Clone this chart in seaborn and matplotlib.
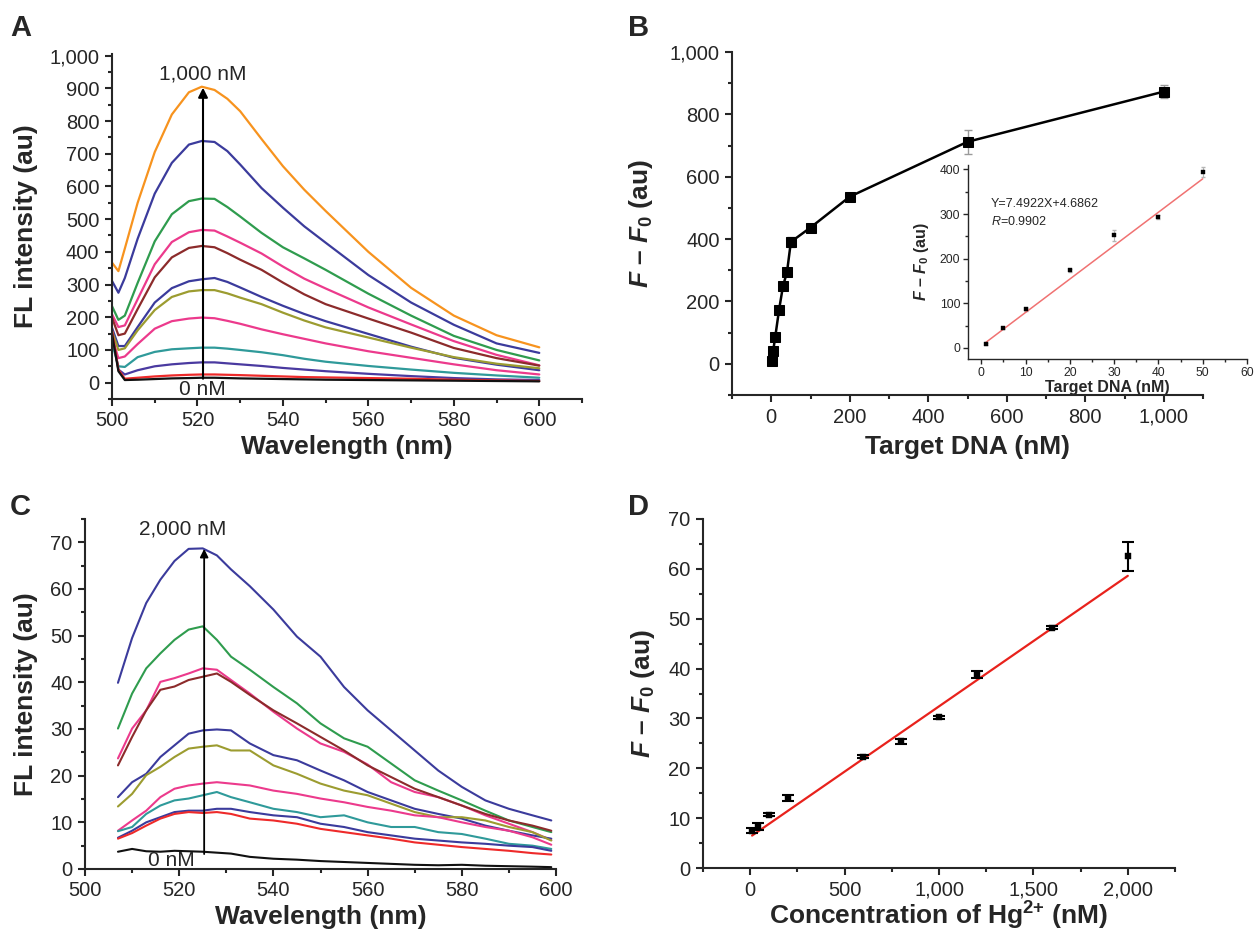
import matplotlib
matplotlib.use('Agg')
import matplotlib.pyplot as plt
import pandas as pd
import seaborn as sns
from matplotlib.ticker import MultipleLocator, FuncFormatter

# ---- panel A: FL spectra, target DNA 0..1000 nM ----
wl_a = [500, 501.5, 503, 506, 510, 514, 518, 521, 524, 527, 530, 535, 540, 545, 550, 560, 570, 580, 590, 600]
a_orange = [367, 341, 410, 550, 705, 820, 888, 905, 895, 868, 830, 745, 662, 590, 525, 400, 290, 205, 145, 108]
a_navy1 = [311, 275, 320, 440, 578, 672, 728, 739, 736, 708, 667, 595, 535, 478, 428, 329, 245, 177, 120, 91]
a_green = [234, 192, 205, 305, 432, 515, 555, 563, 562, 537, 508, 458, 414, 380, 345, 272, 205, 143, 100, 68]
a_pink1 = [209, 170, 175, 255, 362, 430, 460, 467, 465, 447, 428, 395, 355, 318, 288, 230, 178, 127, 85, 53]
a_brown = [199, 145, 150, 225, 322, 383, 412, 418, 414, 396, 376, 345, 306, 270, 240, 196, 153, 106, 75, 52]
a_navy2 = [168, 112, 112, 170, 245, 289, 310, 316, 320, 308, 291, 262, 235, 210, 188, 149, 110, 76, 55, 38]
a_olive = [158, 100, 105, 160, 222, 262, 279, 283, 283, 273, 260, 240, 214, 190, 169, 138, 107, 78, 58, 44]
a_pink2 = [138, 75, 80, 118, 165, 188, 196, 199, 197, 189, 180, 163, 148, 134, 120, 96, 76, 56, 38, 25]
a_teal = [122, 50, 48, 78, 94, 102, 105, 107, 107, 104, 100, 93, 84, 73, 64, 51, 40, 30, 22, 15]
a_navy3 = [150, 40, 25, 38, 50, 56, 60, 62, 62, 59, 56, 51, 45, 40, 35, 27, 20, 14, 10, 8]
a_red = [160, 40, 12, 15, 19, 22, 24, 25, 25, 24, 23, 21, 19, 17, 16, 14, 12, 9, 7, 5]
a_black = [150, 35, 8, 9, 11, 13, 14, 15, 15, 14, 13, 12, 11, 10, 9, 8, 7, 6, 5, 4]

# ---- panel B: F - F0 vs target DNA ----
b_x = [1, 5, 10, 20, 30, 40, 50, 100, 200, 500, 1000]
b_y = [8.5, 42.5, 85, 174, 250, 293, 391, 437, 536, 712, 873]
b_err = [3, 3, 5, 4, 8, 5, 15, 8, 6, 39, 20]

# inset (linear range)
in_x = [1, 5, 10, 20, 30, 40, 50]
in_y = [8, 44, 86, 174, 252, 294, 394]
in_err = [2, 2, 3, 3, 12, 4, 12]
in_fit_x = [1, 50]
in_fit_y = [12, 379]

# ---- panel C: FL spectra, Hg2+ 0..2000 nM ----
wl_c = [507, 510, 513, 516, 519, 522, 525, 528, 531, 535, 540, 545, 550, 555, 560, 565, 570, 575, 580, 585, 590, 595, 599]
c_navy1 = [39.9, 49.5, 57.0, 62.0, 66.0, 68.6, 68.7, 67.2, 64.2, 60.6, 55.6, 49.8, 45.5, 39.0, 34.0, 29.7, 25.4, 21.1, 17.6, 14.7, 12.9, 11.5, 10.4]
c_green = [30.1, 37.6, 43.0, 46.2, 49.1, 51.3, 52.0, 49.1, 45.5, 42.7, 39.0, 35.5, 31.2, 28.0, 26.2, 22.6, 19.0, 16.8, 14.7, 12.5, 10.4, 9.0, 7.9]
c_pink1 = [23.7, 30.1, 34.0, 40.1, 40.9, 41.9, 43.0, 42.7, 40.5, 37.6, 33.7, 30.1, 26.9, 25.1, 22.4, 18.6, 16.5, 15.4, 13.6, 11.5, 9.7, 7.9, 6.2]
c_brown = [22.2, 28.3, 34.0, 38.4, 39.1, 40.5, 41.2, 41.9, 40.1, 37.3, 34.0, 31.2, 28.3, 25.4, 22.2, 19.7, 17.2, 15.4, 13.6, 11.8, 10.4, 9.3, 8.2]
c_navy2 = [15.4, 18.6, 20.4, 24.0, 26.5, 29.0, 29.7, 29.9, 29.7, 26.9, 24.4, 23.3, 21.1, 19.0, 16.5, 14.7, 12.9, 11.8, 10.8, 9.3, 8.2, 7.2, 6.5]
c_olive = [13.4, 16.1, 20.1, 21.9, 24.0, 25.8, 26.2, 26.5, 25.4, 25.4, 22.2, 20.4, 18.3, 16.8, 15.8, 14.0, 12.2, 11.1, 11.1, 10.4, 9.0, 7.9, 6.1]
c_pink2 = [8.2, 10.4, 12.5, 15.4, 17.2, 17.9, 18.3, 18.6, 18.3, 17.9, 16.8, 16.1, 15.1, 14.3, 13.3, 12.5, 11.5, 11.1, 10.0, 9.0, 8.2, 6.8, 5.2]
c_teal = [8.1, 9.0, 11.8, 13.6, 14.7, 15.1, 15.8, 16.5, 15.4, 14.3, 12.9, 12.2, 11.1, 11.5, 10.0, 9.0, 9.0, 7.9, 7.5, 6.5, 5.4, 5.0, 4.3]
c_navy3 = [6.7, 8.2, 10.0, 11.1, 12.2, 12.5, 12.5, 12.9, 12.9, 12.2, 11.5, 11.1, 9.7, 9.0, 7.9, 7.2, 6.5, 6.1, 5.7, 5.4, 5.0, 4.7, 3.9]
c_red = [6.5, 7.7, 9.3, 10.8, 11.8, 12.2, 12.0, 12.2, 11.8, 10.8, 10.4, 9.7, 8.6, 7.9, 7.2, 6.5, 5.7, 5.2, 4.7, 4.3, 3.9, 3.4, 3.1]
c_black = [3.7, 4.3, 3.8, 3.7, 3.9, 3.8, 3.7, 3.5, 3.3, 2.6, 2.2, 2.0, 1.7, 1.5, 1.3, 1.1, 0.9, 0.8, 0.9, 0.7, 0.6, 0.5, 0.4]

# ---- panel D: F - F0 vs Hg2+ ----
d_x = [10, 40, 100, 200, 600, 800, 1000, 1200, 1600, 2000]
d_y = [7.5, 8.4, 10.7, 14.1, 22.3, 25.4, 30.2, 38.8, 48.2, 62.5]
d_err = [0.5, 0.7, 0.3, 0.6, 0.3, 0.55, 0.3, 0.65, 0.3, 2.9]
d_fit_x = [10, 2000]
d_fit_y = [6.5, 58.6]

NAVY, GREEN, PINK, BROWN = '#3b3b9c', '#2f9c4e', '#ec3a8c', '#8c2b2b'
OLIVE, TEAL, RED, ORANGE = '#9c9c30', '#2f9a9a', '#ee2a2a', '#f7931e'

sns.set_style('ticks')
plt.rcParams['font.family'] = ['Liberation Sans', 'DejaVu Sans']
plt.rcParams['mathtext.fontset'] = 'custom'
plt.rcParams['mathtext.rm'] = 'Liberation Sans:bold'
plt.rcParams['mathtext.bf'] = 'Liberation Sans:bold'
plt.rcParams['mathtext.it'] = 'Liberation Sans:italic:bold'
plt.rcParams['mathtext.sf'] = 'Liberation Sans:italic'

comma = FuncFormatter(lambda v, p: f'{int(round(v)):,}')


def long_frame(wl, curves):
    rows = []
    for name, vals in curves:
        for w, v in zip(wl, vals):
            rows.append((name, w, v))
    return pd.DataFrame(rows, columns=['curve', 'wl', 'fl'])


def style(ax, xmaj, xmin, ymaj, ymin, size=14.5, lw=1.5, tl=5.0):
    sns.despine(ax=ax)
    for s in ['left', 'bottom']:
        ax.spines[s].set_linewidth(lw)
    ax.xaxis.set_major_locator(MultipleLocator(xmaj))
    ax.xaxis.set_minor_locator(MultipleLocator(xmin))
    ax.yaxis.set_major_locator(MultipleLocator(ymaj))
    ax.yaxis.set_minor_locator(MultipleLocator(ymin))
    ax.xaxis.set_major_formatter(comma)
    ax.yaxis.set_major_formatter(comma)
    ax.tick_params(which='major', direction='out', length=tl, width=lw, labelsize=size, pad=4)
    ax.tick_params(which='minor', direction='out', length=tl * 0.55, width=lw)
    ax.set_facecolor('none')


fig = plt.figure(figsize=(12.54, 9.32), dpi=100)
W, H = 1254, 932


def px_axes(l, t, r, b):
    return fig.add_axes([l / W, 1 - b / H, (r - l) / W, (b - t) / H])


ax_a = px_axes(112, 54, 582, 399)
ax_b = px_axes(732, 52, 1203, 395)
ax_c = px_axes(85, 519, 556, 869)
ax_d = px_axes(703, 519, 1175, 868)
ax_in = px_axes(968, 165, 1247, 359)

lab = dict(fontsize=19, fontweight='bold', va='center')
flab = r'$F$ – $F_0$ (au)'

# A
curves_a = [('o', a_orange), ('n1', a_navy1), ('g', a_green), ('p1', a_pink1), ('br', a_brown),
            ('n2', a_navy2), ('ol', a_olive), ('p2', a_pink2), ('t', a_teal), ('n3', a_navy3),
            ('r', a_red), ('k', a_black)]
pal_a = [ORANGE, NAVY, GREEN, PINK, BROWN, NAVY, OLIVE, PINK, TEAL, '#4a3aa0', RED, '#111111']
df_a = long_frame(wl_a, curves_a)
sns.lineplot(data=df_a, x='wl', y='fl', hue='curve', hue_order=[n for n, _ in curves_a],
             palette=pal_a, estimator=None, sort=False, legend=False, lw=1.6, ax=ax_a)
ax_a.set_xlim(500, 610)
ax_a.set_ylim(-50, 1005)
style(ax_a, 20, 10, 100, 50)
ax_a.annotate('', xy=(521.3, 902), xytext=(521.3, 12),
              arrowprops=dict(arrowstyle='-|>', color='black', lw=1.5, mutation_scale=14,
                              shrinkA=0, shrinkB=0))
ax_a.text(521.3, 943, '1,000 nM', ha='center', va='center', fontsize=15)
ax_a.text(521.2, -20, '0 nM', ha='center', va='center', fontsize=15)
ax_a.set_xlabel('Wavelength (nm)', **lab)
ax_a.set_ylabel('FL intensity (au)', **lab)
ax_a.xaxis.set_label_coords(0.5, -0.139)
ax_a.yaxis.set_label_coords(-0.183, 0.5)

# B
ax_b.errorbar(b_x, b_y, yerr=b_err, fmt='none', ecolor='#9a9a9a', elinewidth=1, capsize=3, zorder=1)
sns.lineplot(x=b_x, y=b_y, color='black', lw=1.8, marker='s', markersize=7,
             markeredgecolor='black', ax=ax_b, zorder=2)
ax_b.set_xlim(-100, 1100)
ax_b.set_ylim(-100, 1000)
style(ax_b, 200, 100, 200, 100)
ax_b.set_xlabel('Target DNA (nM)', **lab)
ax_b.set_ylabel(flab, **lab)
ax_b.xaxis.set_label_coords(0.5, -0.152)
ax_b.yaxis.set_label_coords(-0.193, 0.5)

# inset
ax_in.errorbar(in_x, in_y, yerr=in_err, fmt='none', ecolor='#b5b5b5', elinewidth=0.8, capsize=1.5)
sns.lineplot(x=in_fit_x, y=in_fit_y, color='#f07272', lw=1.1, ax=ax_in)
sns.scatterplot(x=in_x, y=in_y, marker='s', s=12, color='black', edgecolor='black', ax=ax_in, zorder=3)
ax_in.set_xlim(-3, 60)
ax_in.set_ylim(-25, 410)
style(ax_in, 10, 5, 100, 50, size=8.7, lw=1.0, tl=3.5)
ax_in.tick_params(which='major', pad=2)
ax_in.text(2.1, 322, 'Y=7.4922X+4.6862', fontsize=9, va='center')
ax_in.text(2.1, 283, r'$\mathsf{R}$=0.9902', fontsize=9, va='center')
ax_in.set_xlabel('Target DNA (nM)', fontsize=11.5, fontweight='bold', va='center')
ax_in.set_ylabel(flab, fontsize=11.5, fontweight='bold', va='center')
ax_in.xaxis.set_label_coords(0.5, -0.145)
ax_in.yaxis.set_label_coords(-0.165, 0.5)

# C
curves_c = [('n1', c_navy1), ('g', c_green), ('p1', c_pink1), ('br', c_brown), ('n2', c_navy2),
            ('ol', c_olive), ('p2', c_pink2), ('t', c_teal), ('n3', c_navy3), ('r', c_red), ('k', c_black)]
pal_c = [NAVY, GREEN, PINK, BROWN, NAVY, OLIVE, PINK, TEAL, NAVY, RED, '#111111']
df_c = long_frame(wl_c, curves_c)
sns.lineplot(data=df_c, x='wl', y='fl', hue='curve', hue_order=[n for n, _ in curves_c],
             palette=pal_c, estimator=None, sort=False, legend=False, lw=1.5, ax=ax_c)
ax_c.set_xlim(500, 600)
ax_c.set_ylim(0, 75)
style(ax_c, 20, 10, 10, 5)
ax_c.annotate('', xy=(525.3, 68.6), xytext=(525.3, 3.2),
              arrowprops=dict(arrowstyle='-|>', color='black', lw=1.3, mutation_scale=12,
                              shrinkA=0, shrinkB=0))
ax_c.text(520.8, 72.8, '2,000 nM', ha='center', va='center', fontsize=15)
ax_c.text(518.4, 1.9, '0 nM', ha='center', va='center', fontsize=15)
ax_c.set_xlabel('Wavelength (nm)', **lab)
ax_c.set_ylabel('FL intensity (au)', **lab)
ax_c.xaxis.set_label_coords(0.5, -0.137)
ax_c.yaxis.set_label_coords(-0.125, 0.5)

# D
sns.lineplot(x=d_fit_x, y=d_fit_y, color='#e8221c', lw=1.6, ax=ax_d)
ax_d.errorbar(d_x, d_y, yerr=d_err, fmt='none', ecolor='black', elinewidth=1.5,
              capsize=4.5, capthick=1.5)
sns.scatterplot(x=d_x, y=d_y, marker='s', s=14, color='black', edgecolor='black', ax=ax_d, zorder=3)
ax_d.set_xlim(-250, 2250)
ax_d.set_ylim(0, 70)
style(ax_d, 500, 250, 10, 5)
ax_d.set_xlabel(r'Concentration of Hg$^{2{+}}$ (nM)', **lab)
ax_d.set_ylabel(flab, **lab)
ax_d.xaxis.set_label_coords(0.5, -0.138)
ax_d.yaxis.set_label_coords(-0.127, 0.5)

for letter, x, y in [('A', 10, 14), ('B', 628, 14), ('C', 10, 493), ('D', 628, 493)]:
    fig.text(x / W, 1 - y / H, letter, fontsize=21, fontweight='bold', ha='left', va='top')

fig.savefig('out.png', dpi=100)
